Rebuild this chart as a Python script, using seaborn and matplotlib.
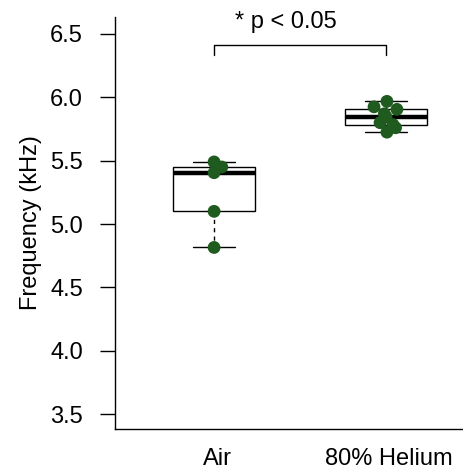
import matplotlib
matplotlib.use("Agg")
import matplotlib.pyplot as plt
import matplotlib.transforms as mtransforms
import seaborn as sns
import numpy as np
import pandas as pd

# Data
groups = ["Air", "80% Helium"]
air_values = [4.815, 5.10, 5.405, 5.45, 5.49]
air_offsets = [0.0, 0.0, 0.0, 0.045, 0.0]
helium_values = [5.725, 5.76, 5.785, 5.80, 5.845, 5.87, 5.905, 5.925, 5.968]
helium_offsets = [0.005, 0.055, 0.04, -0.035, 0.0, -0.01, 0.063, -0.07, 0.005]
y_ticks = [3.5, 4.0, 4.5, 5.0, 5.5, 6.0, 6.5]
annotation = "* p < 0.05"

df = pd.DataFrame({
    "group": [groups[0]] * len(air_values) + [groups[1]] * len(helium_values),
    "value": air_values + helium_values,
    "offset": air_offsets + helium_offsets,
})
df["xpos"] = df["group"].map({g: i for i, g in enumerate(groups)}) + df["offset"]

sns.set_style("ticks")
plt.rcParams["font.family"] = ["Liberation Sans", "DejaVu Sans"]
plt.rcParams["text.color"] = "black"
plt.rcParams["axes.labelcolor"] = "black"
plt.rcParams["xtick.color"] = "black"
plt.rcParams["ytick.color"] = "black"
plt.rcParams["axes.edgecolor"] = "black"

fig = plt.figure(figsize=(4.64, 4.70), dpi=100)
ax = fig.add_axes([115 / 464, 1 - 429 / 470, 1 - 115 / 464, (429 - 17) / 470])

sns.boxplot(data=df, x="group", y="value", order=groups, ax=ax,
            width=0.48, color="white", linecolor="black", linewidth=1.0,
            whis=np.inf, fill=True,
            whiskerprops={"linestyle": (0, (3, 3)), "linewidth": 1.0},
            medianprops={"linewidth": 3.2, "color": "black"},
            capprops={"linewidth": 1.0},
            boxprops={"edgecolor": "black", "facecolor": "white"})

sns.scatterplot(data=df, x="xpos", y="value", ax=ax, color="#1f5a1f",
                s=85, edgecolor="none", linewidth=0, zorder=5, legend=False)

# significance bracket
ax.plot([0, 0, 1, 1], [6.334, 6.413, 6.413, 6.334], color="black", lw=1.0,
        clip_on=False)
ax.text(0.42, 6.547, annotation, ha="center", va="baseline", fontsize=17,
        color="black")

ax.set_xlim(-0.576, 1.453)
ax.set_ylim(3.382, 6.634)
ax.set_yticks(y_ticks)
ax.set_yticklabels([f"{t:.1f}" for t in y_ticks])
ax.set_xticks([0, 1])
ax.set_xticklabels(groups)
ax.set_xlabel("")
ax.set_ylabel("Frequency (kHz)", fontsize=17, labelpad=6)
ax.tick_params(axis="y", length=11, width=1.0, pad=12, labelsize=17,
               color="black", labelcolor="black")
ax.tick_params(axis="x", length=0, pad=14, labelsize=17, labelcolor="black")
shift = mtransforms.ScaledTranslation(3 / 100, 0, fig.dpi_scale_trans)
for lbl in ax.get_xticklabels():
    lbl.set_transform(lbl.get_transform() + shift)
for side in ["top", "right"]:
    ax.spines[side].set_visible(False)
for side in ["left", "bottom"]:
    ax.spines[side].set_linewidth(1.0)
    ax.spines[side].set_color("black")

fig.savefig("out.png", dpi=100)
